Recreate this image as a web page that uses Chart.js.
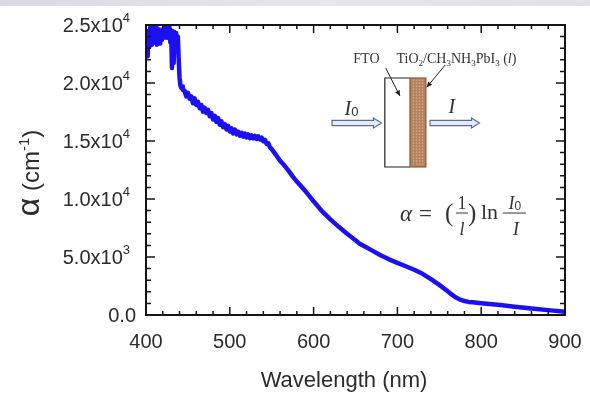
<!DOCTYPE html>
<html lang="en">
<head>
  <meta charset="UTF-8" />
  <title>Absorption coefficient</title>
  <script src="https://cdn.jsdelivr.net/npm/chart.js"></script>
  <style>
    html, body { margin: 0; padding: 0; background: #fff; }
    #wrap { position: relative; width: 590px; height: 397px; }
    #band {
      position: absolute; left: 0; top: 0; width: 590px; height: 6px;
      background: linear-gradient(to right, #d6dce2, #e4e8ec 55%, #dde2e7);
    }
    canvas { display: block; }
  </style>
</head>
<body>
  <div id="wrap">
    <canvas id="c" width="590" height="397"></canvas>
    <div id="band"></div>
  </div>

  <script>
    // wavelength (nm) and absorption coefficient (cm^-1)
    const wavelength = [
      400, 401, 402, 403, 404, 405, 406, 407, 408, 409, 410, 411, 412, 413, 414, 415,
      416, 417, 418, 419, 420, 421, 422, 423, 424, 425, 426, 427, 428, 429, 430, 431,
      432, 433, 434, 435, 436, 437, 438, 439, 440, 441, 442, 443, 444, 446, 448,
      450, 452, 454, 456, 458, 460, 462, 464, 466, 468, 470, 472, 474, 476, 478, 480,
      482, 484, 486, 488, 490, 492, 494, 496, 498, 500, 502, 504, 506, 508, 510, 512,
      514, 516, 518, 520, 522, 524, 526, 528, 530, 532, 534, 536, 538, 540, 542, 544,
      546, 548, 550, 552, 555, 560, 565, 570, 575, 580, 590, 600, 610, 620, 630, 640, 650,
      655, 660, 670, 680, 690, 700, 710, 720, 730, 740, 750, 760, 765, 770, 775, 780,
      785, 790, 800, 820, 840, 860, 880, 900
    ];
    const alpha = [
      22500, 23900, 22300, 24500, 23100, 24800, 23300, 25200, 23700, 24900, 23500, 25300, 24100, 23300, 24700, 23600,
      24100, 23400, 24600, 23700, 24400, 23900, 25100, 24000, 24700, 23900, 25000, 24200, 24800, 23500, 24500, 21300,
      23900, 21700, 24400, 22900, 24300, 23200, 24000, 22100, 20500, 19800, 19600, 19700, 19400, 19350, 18850,
      19150, 18650, 18850, 18250, 18680, 18100, 18380, 17820, 18100, 17530, 17870, 17410, 17690, 17130, 17410, 16850,
      17180, 16650, 16980, 16400, 16700, 16200, 16450, 16000, 16310, 15820, 16090, 15650, 15990, 15570, 15810, 15450,
      15710, 15370, 15640, 15300, 15570, 15250, 15490, 15230, 15440, 15180, 15390, 15130, 15290, 14980, 15100, 14750,
      14800, 14450, 14300, 14100, 13800, 13300, 12900, 12450, 11950, 11500, 10700, 9800, 8950, 8250, 7600, 7000, 6450,
      6150, 5950, 5550, 5150, 4800, 4500, 4200, 3900, 3550, 3100, 2600, 2050, 1750, 1500, 1320, 1200,
      1130, 1090, 1020, 880, 720, 560, 420, 280
    ];

    const xTicks = [400, 500, 600, 700, 800, 900];
    const yTicks = [0, 5000, 10000, 15000, 20000, 25000];
    const yTickText = ['0.0', '5.0x10', '1.0x10', '1.5x10', '2.0x10', '2.5x10'];
    const yTickExp = ['', '3', '4', '4', '4', '4'];
    const xMinor = 20;
    const yMinor = 1000;

    const SANS = '"Liberation Sans", Arial, sans-serif';
    const SERIF = '"Liberation Serif", "Times New Roman", serif';

    // draw a run of text pieces [text, font, dy]; returns total width
    function rich(ctx, runs, x, y, align) {
      let w = 0;
      for (const r of runs) { ctx.font = r[1]; w += ctx.measureText(r[0]).width; }
      let cx = align === 'right' ? x - w : align === 'center' ? x - w / 2 : x;
      for (const r of runs) {
        ctx.font = r[1];
        ctx.fillText(r[0], cx, y + (r[2] || 0));
        cx += ctx.measureText(r[0]).width;
      }
      return w;
    }

    function blockArrow(ctx, x0, x1, yc) {
      const sh = 2.6, hh = 5, hl = 8;
      ctx.beginPath();
      ctx.moveTo(x0, yc - sh);
      ctx.lineTo(x1 - hl, yc - sh);
      ctx.lineTo(x1 - hl, yc - hh);
      ctx.lineTo(x1, yc);
      ctx.lineTo(x1 - hl, yc + hh);
      ctx.lineTo(x1 - hl, yc + sh);
      ctx.lineTo(x0, yc + sh);
      ctx.closePath();
      ctx.fillStyle = '#e4ebf5';
      ctx.fill();
      ctx.strokeStyle = '#5b6d92';
      ctx.lineWidth = 1.2;
      ctx.stroke();
    }

    function pointer(ctx, x0, y0, x1, y1) {
      const ang = Math.atan2(y1 - y0, x1 - x0);
      ctx.strokeStyle = '#222';
      ctx.fillStyle = '#222';
      ctx.lineWidth = 1;
      ctx.beginPath();
      ctx.moveTo(x0, y0);
      ctx.lineTo(x1, y1);
      ctx.stroke();
      ctx.beginPath();
      ctx.moveTo(x1, y1);
      ctx.lineTo(x1 - 6 * Math.cos(ang - 0.45), y1 - 6 * Math.sin(ang - 0.45));
      ctx.lineTo(x1 - 6 * Math.cos(ang + 0.45), y1 - 6 * Math.sin(ang + 0.45));
      ctx.closePath();
      ctx.fill();
    }

    const decor = {
      id: 'decor',
      afterDatasetsDraw(chart) {
        const { ctx, chartArea: a, scales: { x, y } } = chart;
        ctx.save();

        // frame + inward ticks on all four sides
        ctx.strokeStyle = '#151515';
        ctx.lineWidth = 1.5;
        ctx.beginPath();
        for (let v = x.min; v <= x.max; v += xMinor) {
          const px = x.getPixelForValue(v);
          const len = xTicks.includes(v) ? 8 : 4;
          ctx.moveTo(px, a.bottom); ctx.lineTo(px, a.bottom - len);
          ctx.moveTo(px, a.top); ctx.lineTo(px, a.top + len);
        }
        for (let v = y.min; v <= y.max; v += yMinor) {
          const py = y.getPixelForValue(v);
          const len = yTicks.includes(v) ? 9 : 5;
          ctx.moveTo(a.left, py); ctx.lineTo(a.left + len, py);
          ctx.moveTo(a.right, py); ctx.lineTo(a.right - len, py);
        }
        ctx.stroke();
        ctx.lineWidth = 2;
        ctx.strokeRect(a.left, a.top, a.right - a.left, a.bottom - a.top);

        // tick labels
        ctx.fillStyle = '#2b2b2b';
        ctx.textBaseline = 'middle';
        ctx.textAlign = 'center';
        ctx.font = '20px ' + SANS;
        xTicks.forEach(v => ctx.fillText(String(v), x.getPixelForValue(v), a.bottom + 27));
        ctx.textAlign = 'left';
        yTicks.forEach((v, i) => {
          const py = y.getPixelForValue(v) + 1;
          if (yTickExp[i]) {
            rich(ctx, [[yTickText[i], '20px ' + SANS], [yTickExp[i], '13px ' + SANS, -8]], a.left - 16, py, 'right');
          } else {
            rich(ctx, [[yTickText[i], '20px ' + SANS]], a.left - 10, py, 'right');
          }
        });

        // axis titles
        ctx.textBaseline = 'alphabetic';
        rich(ctx, [['Wavelength (nm)', '22px ' + SANS]], 344, a.bottom + 72, 'center');
        ctx.save();
        ctx.translate(39, (a.top + a.bottom) / 2 + 3);
        ctx.rotate(-Math.PI / 2);
        rich(ctx, [['\u03b1', '32px ' + SANS], [' (cm', '24px ' + SANS], ['-1', '15px ' + SANS, -10], [')', '24px ' + SANS]], 0, 0, 'center');
        ctx.restore();

        // inset sketch: FTO / perovskite layer with beam arrows
        const fx0 = x.getPixelForValue(685), fx1 = x.getPixelForValue(715), bx1 = x.getPixelForValue(734);
        const ft = y.getPixelForValue(20430), fb = y.getPixelForValue(12760);
        ctx.fillStyle = '#fff';
        ctx.fillRect(fx0, ft, fx1 - fx0, fb - ft);
        ctx.fillStyle = '#b4825f';
        ctx.fillRect(fx1, ft, bx1 - fx1, fb - ft);
        ctx.fillStyle = '#d9b99c';
        for (let yy = ft + 1.5; yy < fb - 1; yy += 3) {
          for (let xx = fx1 + 1.5 + ((yy - ft) % 6 ? 1.5 : 0); xx < bx1 - 1; xx += 3) {
            ctx.fillRect(xx, yy, 1.2, 1.2);
          }
        }
        ctx.strokeStyle = '#222';
        ctx.lineWidth = 1.2;
        ctx.beginPath();
        ctx.moveTo(fx1, ft); ctx.lineTo(fx0, ft); ctx.lineTo(fx0, fb); ctx.lineTo(fx1, fb);
        ctx.stroke();
        ctx.strokeStyle = '#8a5a3c';
        ctx.strokeRect(fx1, ft, bx1 - fx1, fb - ft);

        const beamY = y.getPixelForValue(16550);
        blockArrow(ctx, x.getPixelForValue(622), x.getPixelForValue(681), beamY);
        blockArrow(ctx, x.getPixelForValue(739), x.getPixelForValue(798), beamY);

        ctx.fillStyle = '#333';
        rich(ctx, [['I', 'italic 20px ' + SERIF], ['0', '13px ' + SANS, 1]], x.getPixelForValue(637), y.getPixelForValue(17240), 'left');
        rich(ctx, [['I', 'italic 20px ' + SERIF]], x.getPixelForValue(761), y.getPixelForValue(17410), 'left');

        const labY = y.getPixelForValue(21700);
        rich(ctx, [['FTO', '14px ' + SERIF]], x.getPixelForValue(663), labY, 'center');
        rich(ctx, [
          ['TiO', '14px ' + SERIF], ['2', '9px ' + SERIF, 3], ['/CH', '14px ' + SERIF], ['3', '9px ' + SERIF, 3],
          ['NH', '14px ' + SERIF], ['3', '9px ' + SERIF, 3], ['PbI', '14px ' + SERIF], ['3', '9px ' + SERIF, 3],
          [' (', '14px ' + SERIF], ['l', 'italic 14px ' + SERIF], [')', '14px ' + SERIF]
        ], x.getPixelForValue(699), labY, 'left');

        pointer(ctx, x.getPixelForValue(686), y.getPixelForValue(21300), x.getPixelForValue(703), y.getPixelForValue(18880));
        pointer(ctx, x.getPixelForValue(757), y.getPixelForValue(21550), x.getPixelForValue(735), y.getPixelForValue(19630));

        // formula  alpha = (1/l) ln I0/I
        const ox = x.getPixelForValue(703), bar = y.getPixelForValue(8790);
        ctx.fillStyle = '#333';
        ctx.strokeStyle = '#333';
        ctx.lineWidth = 1;
        rich(ctx, [['\u03b1', 'italic 23px ' + SERIF]], ox, bar + 8, 'left');
        rich(ctx, [['=', '23px ' + SERIF]], ox + 19, bar + 8, 'left');
        rich(ctx, [['(', '25px ' + SERIF]], ox + 45, bar + 8, 'left');
        rich(ctx, [['1', '18px ' + SERIF]], ox + 62, bar - 4, 'center');
        rich(ctx, [['l', 'italic 18px ' + SERIF]], ox + 62, bar + 22, 'center');
        ctx.beginPath(); ctx.moveTo(ox + 56, bar); ctx.lineTo(ox + 68, bar); ctx.stroke();
        rich(ctx, [[')', '25px ' + SERIF]], ox + 68, bar + 8, 'left');
        rich(ctx, [['ln', '22px ' + SERIF]], ox + 81, bar + 6, 'left');
        rich(ctx, [['I', 'italic 18px ' + SERIF], ['0', '12px ' + SANS, 1]], ox + 115, bar - 4, 'center');
        rich(ctx, [['I', 'italic 18px ' + SERIF]], ox + 116, bar + 22, 'center');
        ctx.beginPath(); ctx.moveTo(ox + 103, bar); ctx.lineTo(ox + 126, bar); ctx.stroke();

        ctx.restore();
      }
    };

    new Chart(document.getElementById('c').getContext('2d'), {
      type: 'line',
      data: {
        datasets: [{
          data: wavelength.map((w, i) => ({ x: w, y: alpha[i] })),
          borderColor: '#1c10f2',
          borderWidth: 4.5,
          pointRadius: 0,
          tension: 0,
          borderJoinStyle: 'round',
          clip: 0
        }]
      },
      options: {
        responsive: false,
        animation: false,
        events: [],
        layout: { padding: { left: 146, right: 25, top: 25, bottom: 82 } },
        plugins: { legend: { display: false }, tooltip: { enabled: false } },
        scales: {
          x: { type: 'linear', min: 400, max: 900, display: false },
          y: { type: 'linear', min: 0, max: 25000, display: false }
        }
      },
      plugins: [decor]
    });
  </script>
</body>
</html>
